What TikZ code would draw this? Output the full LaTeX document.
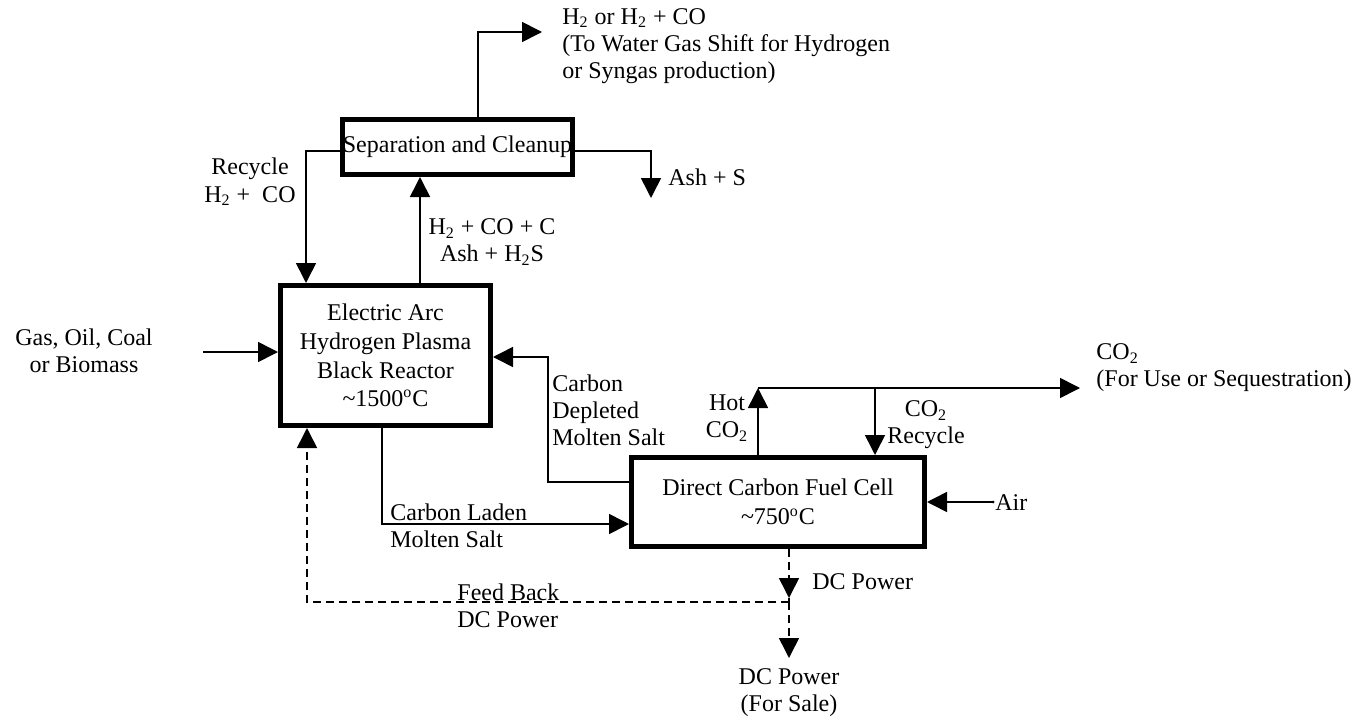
\documentclass[tikz,border=0pt]{standalone}
\usepackage{fontspec}
\setmainfont{Liberation Serif}
\usetikzlibrary{arrows.meta}
\begin{document}
\begin{tikzpicture}[x=0.5pt,y=-0.5pt,
  font=\fontsize{12}{13.6}\selectfont,
  box/.style={draw, line width=2.5pt, inner sep=0pt, align=center},
  flow/.style={line width=0.8pt, -{Triangle[length=10pt,width=10pt]}},
  dflow/.style={line width=0.8pt, dash pattern=on 4pt off 2.5pt, -{Triangle[length=10pt,width=10pt]}},
  dline/.style={line width=0.8pt, dash pattern=on 4pt off 2.5pt},
  lbl/.style={inner sep=0pt}]
\useasboundingbox (0,0) rectangle (1359,722);
% boxes
\node[box, minimum width=113pt, minimum height=27.5pt] (sep) at (457.5,147) {Separation and Cleanup};
\node[box, minimum width=105pt, minimum height=70pt, font=\fontsize{12}{14.3}\selectfont] (reac) at (385.5,355.5)
  {Electric Arc\\Hydrogen Plasma\\Black Reactor\\\textasciitilde1500\textsuperscript{o}C};
\node[box, minimum width=146.5pt, minimum height=44.5pt, font=\fontsize{12}{14.5}\selectfont] (dcfc) at (778,502)
  {Direct Carbon Fuel Cell\\\textasciitilde750\textsuperscript{o}C};
% coordinates
\coordinate (h2x) at (478,0);
\coordinate (h2tip) at (542,32);
\coordinate (sepy) at (0,151);
\coordinate (rcx) at (306,0);
\coordinate (upx) at (420,0);
\coordinate (ashtip) at (651,198);
\coordinate (inx) at (203,352);
\coordinate (cdy) at (0,482);
\coordinate (cdx) at (548,357);
\coordinate (clx) at (382,524);
\coordinate (hotx) at (758,388);
\coordinate (co2tip) at (1080,388);
\coordinate (recx) at (875,388);
\coordinate (air) at (993,502);
\coordinate (dcj) at (789,602);
\coordinate (dctip1) at (789,598);
\coordinate (dctip2) at (789,658);
\coordinate (fbx) at (307,0);
% connectors
\draw[flow] (sep.north -| h2x) |- (h2tip);
\draw[flow] (sep.west |- sepy) -| (reac.north -| rcx);
\draw[flow] (reac.north -| upx) -- (sep.south -| upx);
\draw[flow] (sep.east |- sepy) -| (ashtip);
\draw[flow] (inx) -- (inx -| reac.west);
\draw[flow] (dcfc.west |- cdy) -| (cdx) -- (cdx -| reac.east);
\draw[flow] (reac.south -| clx) |- (dcfc.west |- clx);
\draw[flow] (dcfc.north -| hotx) -- (hotx);
\draw[flow] (hotx) -- (co2tip);
\draw[flow] (recx) -- (recx |- dcfc.north);
\draw[flow] (air) -- (air -| dcfc.east);
\fill (air) circle (1.5);
\draw[dflow] (dcfc.south -| dcj) -- (dctip1);
\draw[dline] (dctip1) -- (dcj);
\draw[dflow] (dcj) -- (dctip2);
\draw[dflow] (dcj) -| (reac.south -| fbx);
% labels
\node[lbl, anchor=west, align=left] (h2lbl) at (562,46)
  {H\textsubscript{2} or H\textsubscript{2} + CO\\(To Water Gas Shift for Hydrogen\\or Syngas production)};
\node[lbl, align=center] (reclbl) at (250,182) {Recycle\\H\textsubscript{2} +\ \ CO};
\node[lbl, align=center] (prodlbl) at (492,242) {H\textsubscript{2} + CO + C\\Ash + H\textsubscript{2}S};
\node[lbl, anchor=west] (ashlbl) at (668,177) {Ash + S};
\node[lbl, align=center] (feedlbl) at (84,351) {Gas, Oil, Coal\\or Biomass};
\node[lbl, anchor=west, align=left] (cdlbl) at (552,410) {Carbon\\Depleted\\Molten Salt};
\node[lbl, anchor=west, align=left] (cllbl) at (390,526) {Carbon Laden\\Molten Salt};
\node[lbl, align=center] (hotlbl) at (727,418) {Hot\\CO\textsubscript{2}};
\node[lbl, align=center] (reclbl2) at (926,425) {CO\textsubscript{2}\\Recycle};
\node[lbl, anchor=west] (airlbl) at (995,503) {Air};
\node[lbl, anchor=west, align=left] (co2lbl) at (1096,368) {CO\textsubscript{2}\\(For Use or Sequestration)};
\node[lbl, anchor=west] (dclbl) at (812,582) {DC Power};
\node[lbl, anchor=west, align=left] (fblbl) at (457,606) {Feed Back\\DC Power};
\node[lbl, align=center] (salelbl) at (789,693) {DC Power\\(For Sale)};
\end{tikzpicture}
\end{document}
